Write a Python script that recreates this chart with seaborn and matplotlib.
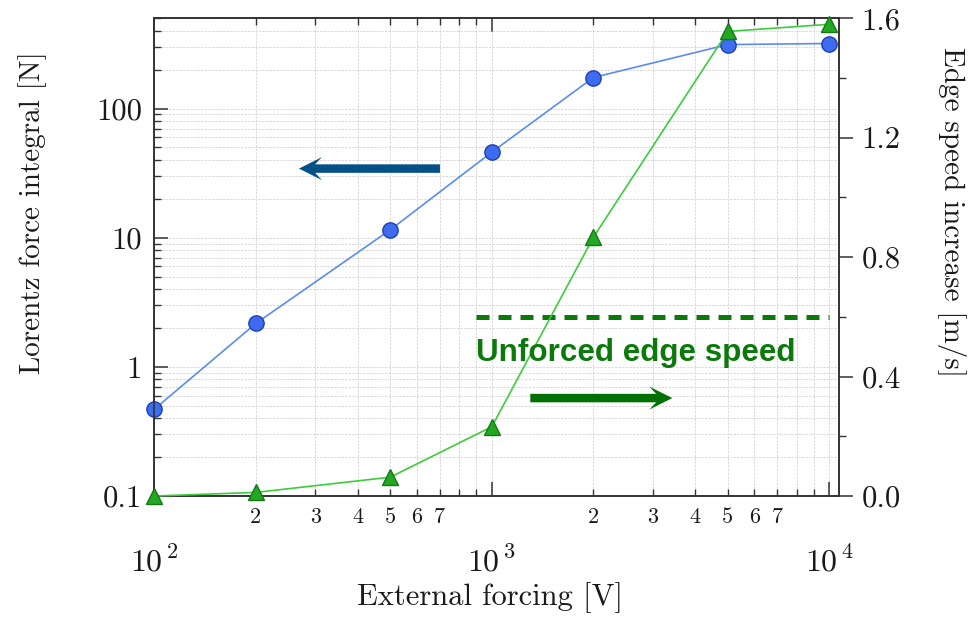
import numpy as np
import pandas as pd
import matplotlib
matplotlib.use("Agg")
import matplotlib.pyplot as plt
import seaborn as sns
from matplotlib.ticker import (LogLocator, FuncFormatter, FixedLocator,
                               MultipleLocator, FormatStrFormatter)
from matplotlib.patches import FancyArrow
from matplotlib.transforms import ScaledTranslation

# ---- data -------------------------------------------------------------
forcing_v = [100, 200, 500, 1000, 2000, 5000, 10000]
lorentz_n = [0.47, 2.17, 11.5, 46, 174, 313, 319]
edge_speed = [0.0, 0.012, 0.063, 0.232, 0.867, 1.556, 1.580]

unforced_speed = 0.6
unforced_span = (900, 10000)

left_ticks = [0.1, 1, 10, 100]
x_minor_labelled = [2, 3, 4, 5, 6, 7]

# ---- style ------------------------------------------------------------
sns.set_style("ticks")
plt.rcParams.update({
    "font.family": ["cmr10", "DejaVu Serif"],
    "mathtext.fontset": "cm",
    "axes.formatter.use_mathtext": True,
    "axes.unicode_minus": False,
})

BLUE_LINE, BLUE_FACE, BLUE_EDGE = "#5b8cf0", "#3d6cf0", "#1f3fb0"
GREEN_LINE, GREEN_FACE, GREEN_EDGE = "#3ccc3c", "#22a822", "#137a13"
ANNOT_GREEN = "#0b7a0b"
ARROW_BLUE = "#045088"
ARROW_GREEN = "#037003"
SPINE = "#333333"
TXT = "#1a1a1a"

df = pd.DataFrame({"forcing": forcing_v, "lorentz": lorentz_n, "speed": edge_speed})

fig = plt.figure(figsize=(9.75, 6.2), dpi=100)
ax = fig.add_axes([154.3 / 975, 1 - 496 / 620, 685 / 975, 477.7 / 620])
ax2 = ax.twinx()

sns.lineplot(data=df, x="forcing", y="lorentz", ax=ax, color=BLUE_LINE, lw=1.2,
             marker="o", markersize=11, markerfacecolor=BLUE_FACE,
             markeredgecolor=BLUE_EDGE, markeredgewidth=1.0, clip_on=False,
             zorder=3)
sns.lineplot(data=df, x="forcing", y="speed", ax=ax2, color=GREEN_LINE, lw=1.2,
             marker="^", markersize=11, markerfacecolor=GREEN_FACE,
             markeredgecolor=GREEN_EDGE, markeredgewidth=1.0, clip_on=False,
             zorder=3)

ax.set_xscale("log")
ax.set_yscale("log")
ax.set_xlim(100, 10700)
ax.set_ylim(0.1, 500)
ax2.set_ylim(0, 1.6)

# ---- grid -------------------------------------------------------------
ax.set_axisbelow(True)
ax.grid(True, which="both", axis="both", color="#d9d9d9",
        linestyle=(0, (2.5, 1.2)), linewidth=0.7)
ax2.grid(False)

# ---- x axis ticks -----------------------------------------------------
ax.xaxis.set_major_locator(LogLocator(base=10, numticks=10))
ax.xaxis.set_minor_locator(LogLocator(base=10, subs=np.arange(2, 10), numticks=30))
ax.xaxis.set_major_formatter(
    FuncFormatter(lambda v, p: r"$10^{\,%d}$" % int(round(np.log10(v)))))


def minor_label(v, p):
    m = int(round(v / 10 ** np.floor(np.log10(v) + 1e-9)))
    return str(m) if m in x_minor_labelled else ""


ax.xaxis.set_minor_formatter(FuncFormatter(minor_label))
ax.tick_params(axis="x", which="both", direction="in", top=True, bottom=True,
               colors=SPINE, labelcolor=TXT)
ax.tick_params(axis="x", which="major", length=10, width=1.1, labelsize=23, pad=36)
ax.tick_params(axis="x", which="minor", length=5, width=1.0, labelsize=16, pad=8)

# ---- left y axis ------------------------------------------------------
ax.yaxis.set_major_locator(FixedLocator(left_ticks))
ax.yaxis.set_major_formatter(FuncFormatter(lambda v, p: "%g" % v))
ax.yaxis.set_minor_locator(LogLocator(base=10, subs=np.arange(2, 10), numticks=30))
ax.tick_params(axis="y", which="both", direction="in", left=True, right=False,
               colors=SPINE, labelcolor=TXT)
ax.tick_params(axis="y", which="major", length=10, width=1.1, labelsize=22, pad=9)
ax.tick_params(axis="y", which="minor", length=5, width=1.0)

# ---- right y axis -----------------------------------------------------
ax2.yaxis.set_major_locator(MultipleLocator(0.4))
ax2.yaxis.set_minor_locator(MultipleLocator(0.2))
ax2.yaxis.set_major_formatter(FormatStrFormatter("%.1f"))
ax2.tick_params(axis="y", which="both", direction="out", right=True,
                colors=SPINE, labelcolor=TXT)
ax2.tick_params(axis="y", which="major", length=10, width=1.1, labelsize=22, pad=6)
ax2.tick_params(axis="y", which="minor", length=5, width=1.0)

for a in (ax, ax2):
    for s in a.spines.values():
        s.set_color(SPINE)
        s.set_linewidth(1.2)

# ---- axis labels ------------------------------------------------------
ax.set_xlabel("External forcing [V]", fontsize=22, color=TXT)
ax.xaxis.set_label_coords(0.49, -0.18)
ax.set_ylabel("Lorentz force integral [N]", fontsize=21, color=TXT, va="center")
ax.yaxis.set_label_coords(-0.177, 0.594)
ax2.set_ylabel("Edge speed increase [m/s]", fontsize=21, color=TXT,
               rotation=270, va="center")
ax2.yaxis.set_label_coords(1.1645, 0.594)

# ---- reference level and annotations ---------------------------------
ax2.hlines(unforced_speed, *unforced_span, colors=ANNOT_GREEN, lw=3.6,
           linestyles=[(0, (2.6, 1.8))], zorder=2)
ax2.text(900, 0.453, "Unforced edge speed", fontfamily="Liberation Sans",
         fontweight="bold", fontsize=22.6, color=ANNOT_GREEN, va="baseline")


def add_arrow(axis, x0, y0, length_in, color):
    tr = fig.dpi_scale_trans + ScaledTranslation(x0, y0, axis.transData)
    arr = FancyArrow(0, 0, length_in, 0, width=0.085, head_width=0.23,
                     head_length=0.23, length_includes_head=True, overhang=0.3,
                     transform=tr, color=color, lw=0, zorder=5)
    axis.add_artist(arr)


add_arrow(ax, 702, 34.3, -1.41, ARROW_BLUE)
add_arrow(ax2, 1300, 0.328, 1.42, ARROW_GREEN)

fig.savefig("out.png", dpi=100)
